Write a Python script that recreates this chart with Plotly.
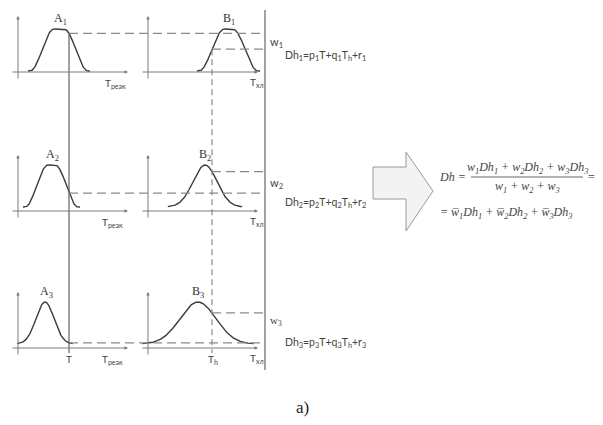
import numpy as np
import plotly.graph_objects as go

# ---------------- data (membership functions of the scheme) ----------------
# input variable values (on the page scale of the scheme)
T_value = 69.0
Th_value = 212.0

# A_i : membership functions for T_реак  (kind, centre, plateau half-width, edge/spread)
A_kind = ["trap", "trap", "gauss"]
A_center = [59.0, 51.5, 45.0]
A_half = [5.0, 3.5, 0.0]
A_spread = [24.0, 23.0, 9.0]

# B_i : membership functions for T_хл
B_kind = ["trap", "gauss", "gauss"]
B_center = [228.5, 205.0, 198.0]
B_half = [4.1, 0.0, 0.0]
B_spread = [25.4, 12.0, 18.0]

A_labels = ["A<sub>1</sub>", "A<sub>2</sub>", "A<sub>3</sub>"]
B_labels = ["B<sub>1</sub>", "B<sub>2</sub>", "B<sub>3</sub>"]
w_labels = ["w<sub>1</sub>", "w<sub>2</sub>", "w<sub>3</sub>"]
rule_labels = ["Dh<sub>1</sub>=p<sub>1</sub>T+q<sub>1</sub>T<sub>h</sub>+r<sub>1</sub>",
               "Dh<sub>2</sub>=p<sub>2</sub>T+q<sub>2</sub>T<sub>h</sub>+r<sub>2</sub>",
               "Dh<sub>3</sub>=p<sub>3</sub>T+q<sub>3</sub>T<sub>h</sub>+r<sub>3</sub>"]

# ---------------- layout of the scheme ----------------
W, H = 603, 425
OFF = 8  # page body margin
axis_y = [72, 211, 348]
base_y = [71, 207, 344]
peak_h = [42, 42, 42]
yA_x, yB_x = 18, 148
xA_rng = (11, 128)
xB_rng = (141, 258)
bigV_x = 265

CURVE = "#3a3a3a"
AXC = "#7a7a7a"
DASH = "#8a8a8a"


def mu(kind, c, h, s, x):
    x = np.asarray(x, dtype=float)
    if kind == "gauss":
        return np.exp(-0.5 * ((x - c) / s) ** 2)
    d = np.abs(x - c)
    e = np.clip((d - h) / s, 0, 1)
    return 0.5 * (1 + np.cos(np.pi * e))


def extent(kind, c, h, s):
    if kind == "gauss":
        return c - 3.1 * s, c + 3.1 * s
    return c - h - s - 2, c + h + s + 2


fig = go.Figure()
shapes = []
ann = []


def line(x0, y0, x1, y1, color=AXC, width=1, dash="solid"):
    shapes.append(dict(type="line", xref="x", yref="y", x0=x0, y0=y0, x1=x1, y1=y1,
                       line=dict(color=color, width=width, dash=dash)))


def arrow(x0, y0, x1, y1):
    ann.append(dict(x=x1, y=y1, ax=x0, ay=y0, xref="x", yref="y", axref="x", ayref="y",
                    text="", showarrow=True, arrowhead=2, arrowsize=0.7, arrowwidth=1,
                    arrowcolor=AXC, standoff=0, startstandoff=0))


def text(x, y, t, size=10, family="Lato, Liberation Sans, sans-serif", color="#444",
         xanchor="center", yanchor="middle", italic=False):
    ann.append(dict(x=x, y=y, xref="x", yref="y", text=t, showarrow=False,
                    xanchor=xanchor, yanchor=yanchor,
                    font=dict(size=size, family=family, color=color,
                              style="italic" if italic else "normal")))


SERIF = "Liberation Serif, Times New Roman, serif"
SANS = "Lato, Liberation Sans, sans-serif"

crossA, crossB = [], []
for i in range(3):
    ay, by, ph = axis_y[i], base_y[i], peak_h[i]
    # axes
    arrow(yA_x, ay + 8, yA_x, ay - 56)
    arrow(xA_rng[0], ay, xA_rng[1], ay)
    arrow(yB_x, ay + 8, yB_x, ay - 56)
    arrow(xB_rng[0], ay, xB_rng[1], ay)
    # A curve
    lo, hi = extent(A_kind[i], A_center[i], A_half[i], A_spread[i])
    xs = np.linspace(lo, hi, 200)
    ys = by - ph * mu(A_kind[i], A_center[i], A_half[i], A_spread[i], xs)
    fig.add_trace(go.Scatter(x=xs, y=ys, mode="lines", line=dict(color=CURVE, width=1.4),
                             hoverinfo="skip", showlegend=False))
    # B curve
    lo, hi = extent(B_kind[i], B_center[i], B_half[i], B_spread[i])
    xs = np.linspace(lo, hi, 200)
    ys = by - ph * mu(B_kind[i], B_center[i], B_half[i], B_spread[i], xs)
    fig.add_trace(go.Scatter(x=xs, y=ys, mode="lines", line=dict(color=CURVE, width=1.4),
                             hoverinfo="skip", showlegend=False))
    # crossings
    ya = float(by - ph * mu(A_kind[i], A_center[i], A_half[i], A_spread[i], T_value))
    yb = float(by - ph * mu(B_kind[i], B_center[i], B_half[i], B_spread[i], Th_value))
    crossA.append(ya)
    crossB.append(yb)
    line(T_value, ya, bigV_x, ya, color=DASH, width=1.2, dash="9px,5px")
    line(Th_value, yb, bigV_x, yb, color=DASH, width=1.2, dash="9px,5px")
    # labels
    apk = A_center[i]
    text(apk + 1, by - ph - 10, A_labels[i], size=12, family=SERIF, color="#333")
    text(B_center[i], by - ph - 10, B_labels[i], size=12, family=SERIF, color="#333")
    text(112 if i else 115, ay + 11, "T<sub>реак</sub>", size=10, family=SANS)
    text(257, ay + 10, "T<sub>хл</sub>", size=10, family=SANS)
    text(bigV_x + 3, (ya + yb) / 2 + 1 if i < 2 else yb + 8, w_labels[i], size=11,
         family=SANS if i < 2 else SERIF, xanchor="left")
    text(283, [56, 203, 343][i], rule_labels[i], size=10.5, family=SANS, xanchor="left")

# vertical lines
line(T_value, crossA[0], T_value, 353, color="#555", width=1.1)
line(Th_value, crossB[0], Th_value, 353, color=DASH, width=1.2, dash="6px,4px")
line(bigV_x, 10, bigV_x, 370, color="#666", width=1.2)
text(T_value, 359, "T", size=10, family=SANS)
text(Th_value + 1, 359, "T<sub>h</sub>", size=10, family=SANS)

# big block arrow
shapes.append(dict(type="path", xref="x", yref="y",
                   path="M 373 167 L 406 167 L 406 152 L 433 191 L 406 231 L 406 199 L 373 199 Z",
                   fillcolor="#f3f3f3", line=dict(color="#9a9a9a", width=1)))

# formula
MATH = "Liberation Serif, Times New Roman, serif"
fs = 12
text(437, 177, "Dh =", size=fs, family=MATH, xanchor="left", italic=True)
text(527, 168, "w<sub>1</sub>Dh<sub>1</sub> + w<sub>2</sub>Dh<sub>2</sub> + w<sub>3</sub>Dh<sub>3</sub>",
     size=fs, family=MATH, italic=True)
line(471, 177, 583, 177, color="#555", width=0.9)
text(527, 187, "w<sub>1</sub> + w<sub>2</sub> + w<sub>3</sub>", size=fs, family=MATH, italic=True)
text(586, 177, "=", size=fs, family=MATH, xanchor="left")
text(438, 213, "= w\u0305<sub>1</sub>Dh<sub>1</sub> + w\u0305<sub>2</sub>Dh<sub>2</sub> + w\u0305<sub>3</sub>Dh<sub>3</sub>",
     size=fs, family=MATH, xanchor="left", italic=True)

# caption
text(302, 407, "a)", size=17, family=SERIF, color="#222")

fig.update_layout(
    width=W, height=H, margin=dict(l=0, r=0, t=0, b=0),
    paper_bgcolor="white", plot_bgcolor="white",
    xaxis=dict(range=[OFF, W + OFF], visible=False, fixedrange=True),
    yaxis=dict(range=[H + OFF, OFF], visible=False, fixedrange=True),
    shapes=shapes, annotations=ann, showlegend=False,
)
fig.write_html("out.html")
